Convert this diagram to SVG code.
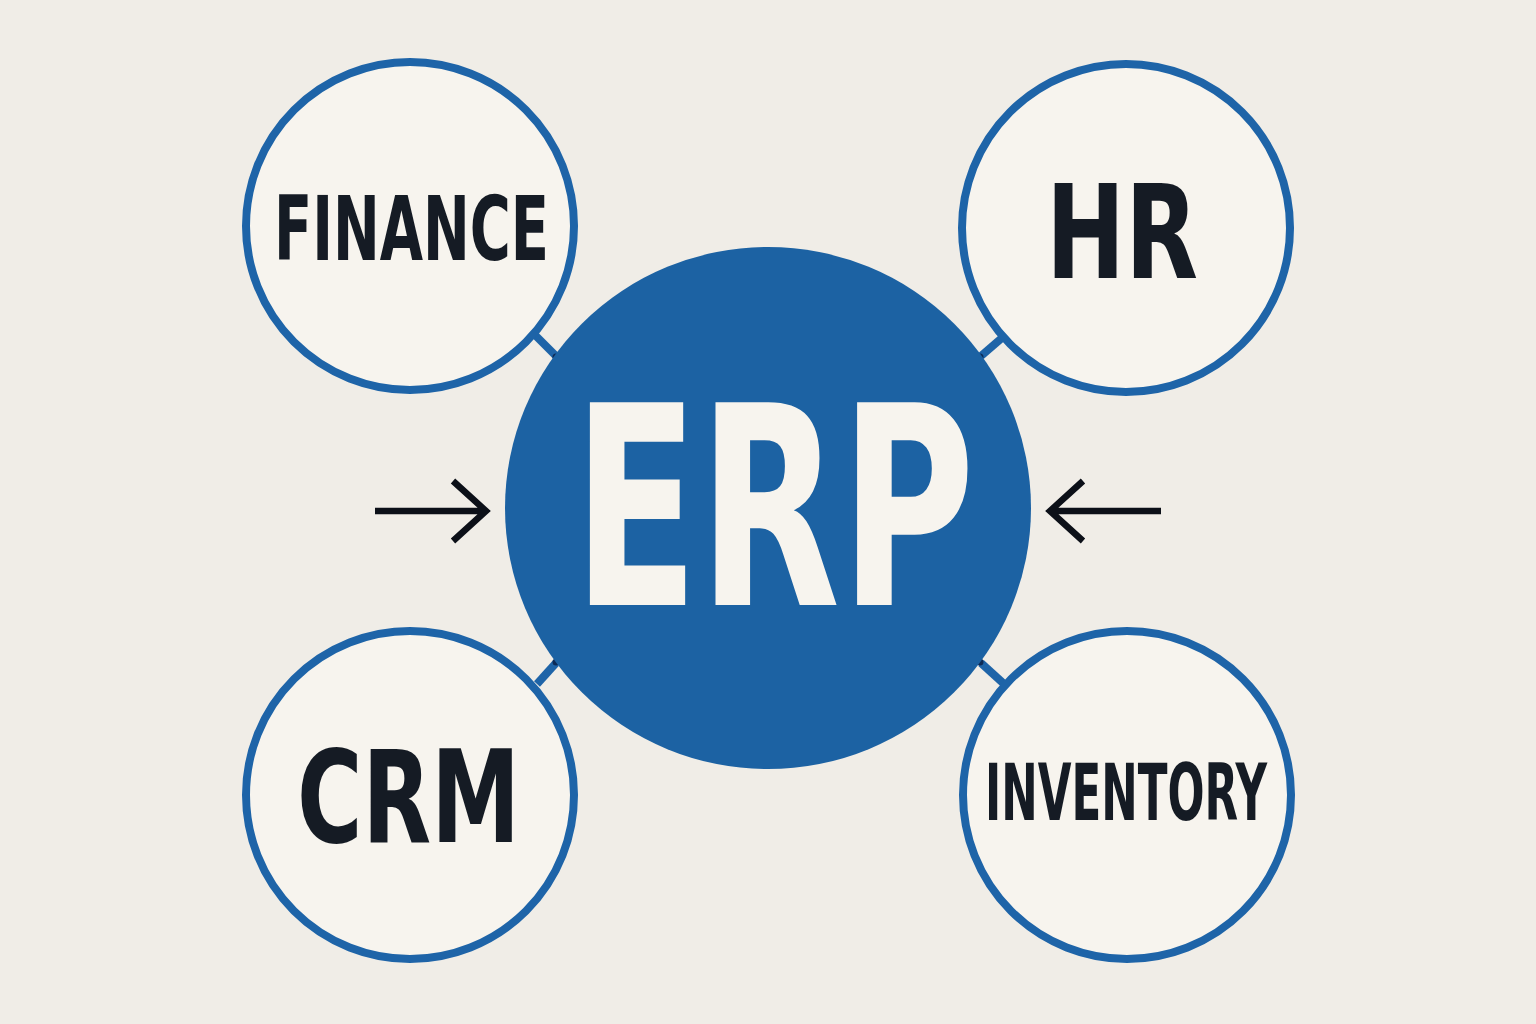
<svg xmlns="http://www.w3.org/2000/svg" width="1536" height="1024" viewBox="0 0 1536 1024">
<style>
.mod{fill:#f7f4ee;stroke:#1e64a8;stroke-width:8}
.lbl{font-family:"DejaVu Sans","Liberation Sans",sans-serif;font-weight:bold;font-stretch:condensed;fill:#151b24;text-anchor:start}
.link{stroke:#1e64a8;stroke-width:8;fill:none}
.dot{fill:#0d2a55}
.arrow{stroke:#0c1018;stroke-width:6.5;fill:none;stroke-linecap:butt;stroke-linejoin:miter}
</style>
<rect width="1536" height="1024" fill="#f0ede7"/>
<g id="connectors">
<line class="link" x1="535" y1="335" x2="556" y2="356"/>
<circle class="dot" cx="556" cy="357" r="3.5"/>
<line class="link" x1="1003" y1="337" x2="981" y2="356"/>
<circle class="dot" cx="980" cy="357" r="3.5"/>
<line class="link" x1="537" y1="684" x2="556" y2="663"/>
<circle class="dot" cx="556" cy="662" r="3.5"/>
<line class="link" x1="1003" y1="683" x2="981" y2="663"/>
<circle class="dot" cx="980" cy="662" r="3.5"/>
<path class="arrow" d="M375 511 H486 M453 481 L486 511 L453 541"/>
<path class="arrow" d="M1161 511 H1050 M1083 481 L1050 511 L1083 541"/>
</g>
<g id="erp">
<ellipse cx="768" cy="508" rx="263" ry="261" fill="#1c62a3"/>
<text x="573" y="605" font-family="DejaVu Sans, Liberation Sans, sans-serif" font-weight="bold" font-size="278" fill="#f7f4ee" textLength="402" lengthAdjust="spacingAndGlyphs">ERP</text>
</g>
<g id="finance">
<circle class="mod" cx="410" cy="226" r="164"/>
<text class="lbl" x="274" y="260" font-size="89" textLength="275" lengthAdjust="spacingAndGlyphs">FINANCE</text>
</g>
<g id="hr">
<circle class="mod" cx="1126" cy="228" r="164"/>
<text class="lbl" x="1046" y="278" font-size="130" textLength="152" lengthAdjust="spacingAndGlyphs">HR</text>
</g>
<g id="crm">
<circle class="mod" cx="410" cy="795" r="164"/>
<text class="lbl" x="297" y="842" font-size="129" textLength="223" lengthAdjust="spacingAndGlyphs">CRM</text>
</g>
<g id="inventory">
<circle class="mod" cx="1127" cy="795" r="164"/>
<text class="lbl" x="985" y="820" font-size="78" textLength="282" lengthAdjust="spacingAndGlyphs">INVENTORY</text>
</g>
</svg>
